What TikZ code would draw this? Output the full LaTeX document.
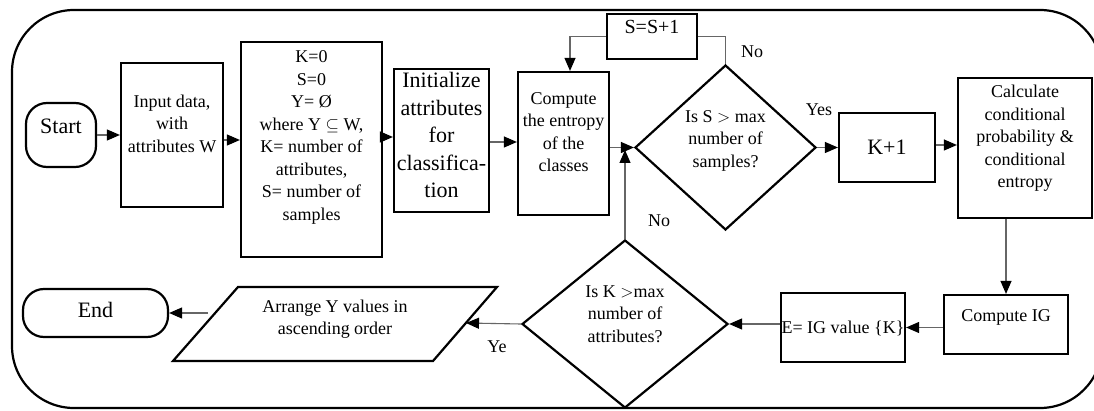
\documentclass[tikz,border=0pt]{standalone}
\usepackage{fontspec}
\setmainfont{Liberation Serif}
\usetikzlibrary{arrows.meta,shapes.geometric}
\newcommand{\lift}[2]{\raisebox{#1pt}[0pt][0pt]{\begin{tabular}{@{}c@{}}#2\end{tabular}}}
\begin{document}
\begin{tikzpicture}[x=1pt,y=-1pt,
  txt/.style={font=\fontsize{18}{22.5}\selectfont},
  bigtxt/.style={font=\fontsize{22}{27.5}\selectfont},
  midtxt/.style={font=\fontsize{20}{25}\selectfont},
  box/.style={draw, rectangle, line width=2.2pt, inner sep=0pt},
  dia/.style={draw, diamond, line width=2.2pt, inner sep=0pt},
  term/.style={draw, rectangle, rounded corners=21pt, line width=2.2pt, inner sep=0pt},
  conn/.style={draw=black!60, line width=1.1pt},
  arr/.style={conn, -{Triangle[length=13pt,width=11pt,color=black]}},
  lbl/.style={txt, inner sep=0pt}]
\useasboundingbox (0,0) rectangle (1094,411);
\clip (0,0) rectangle (1094,411);
\fill[white] (0,0) rectangle (1094,411);
% outer frame
\draw[line width=2.2pt, rounded corners=62pt] (12,10) rectangle (1102,408);

% top row
\node[term, bigtxt, minimum width=70, minimum height=64] (start) at (61,135) {\lift{2}{Start}};
\node[box, txt, minimum width=102, minimum height=144] (input) at (172,135) {\lift{5.5}{Input data,\\with\\attributes W}};
\node[box, txt, minimum width=141, minimum height=215] (kbox) at (311.5,149.5) {\lift{8}{K=0\\S=0\\Y= Ø\\where Y $\subseteq$ W,\\K= number of\\attributes,\\S= number of\\samples}};
\node[box, bigtxt, minimum width=95, minimum height=143] (init) at (441.5,140.5) {\lift{-2}{Initialize\\attributes\\for\\classifica-\\tion}};
\node[box, txt, minimum width=91, minimum height=143] (compute) at (563.5,143.5) {\lift{5.5}{Compute\\the entropy\\of the\\classes}};
\node[box, midtxt, minimum width=90, minimum height=45] (sbox) at (652,36.5) {\lift{3}{S=S+1}};
\node[dia, txt, minimum width=181, minimum height=165] (dS) at (725.5,147.5) {\lift{3}{Is S $>$ max\\number of\\samples?}};
\node[box, bigtxt, minimum width=96, minimum height=69] (k1) at (887,147.5) {\lift{-6.5}{K+1}};
\node[box, txt, minimum width=134, minimum height=140] (calc) at (1025,148) {\lift{5.5}{Calculate\\conditional\\probability \&\\conditional\\entropy}};

% bottom row
\node[box, txt, minimum width=124, minimum height=59] (ig) at (1006,324.5) {\lift{3.5}{Compute IG}};
\node[box, txt, minimum width=124, minimum height=69] (ebox) at (843,327.5) {\lift{-6}{E= IG value \{K\}}};
\node[dia, txt, minimum width=206, minimum height=168] (dK) at (625,324) {\lift{4.5}{Is K $>$max\\number of\\attributes?}};
\draw[line width=2.2pt] (173,361) -- (238,287) -- (497,287) -- (433,361) -- cycle;
\node[txt, inner sep=0pt] (arrange) at (335,324) {\lift{0.5}{Arrange Y values in\\ascending order}};
\coordinate (arrR) at (466,323);
\coordinate (arrL) at (208,313);
\node[term, bigtxt, minimum width=145, minimum height=48] (end) at (95.5,313) {\lift{-4}{End}};

% connectors
\draw[arr] (start.east) -- (input.west);
\draw[arr] (input.east |- 0,140) -- (kbox.west |- 0,140);
\draw[arr] (kbox.east |- 0,137) -- (init.west |- 0,137);
\draw[arr] (init.east |- 0,142) -- (compute.west |- 0,142);
\draw[arr] (compute.east |- dS.west) -- (dS.west);
\draw[arr] (dK.north) -- (dK.north |- 0,150);
\draw[conn] (dS.north) |- (sbox.east);
\draw[arr] (sbox.west) -| ([xshift=6.5pt]compute.north);
\draw[arr] (dS.east) -- (k1.west);
\draw[arr] (k1.east |- 0,145) -- (calc.west |- 0,145);
\draw[arr] (ig.north |- calc.south) -- (ig.north);
\draw[arr] (ig.west |- ebox.east) -- (ebox.east);
\draw[arr] (ebox.west |- dK.east) -- (dK.east);
\draw[arr] (dK.west) -- (arrR);
\draw[arr] (arrL) -- (end.east);

% labels
\node[lbl] (noS) at (752,52) {No};
\node[lbl] (yesS) at (819,110) {Yes};
\node[lbl] (noK) at (659,221) {No};
\node[lbl] (yesK) at (497,347) {Ye};
\end{tikzpicture}
\end{document}
